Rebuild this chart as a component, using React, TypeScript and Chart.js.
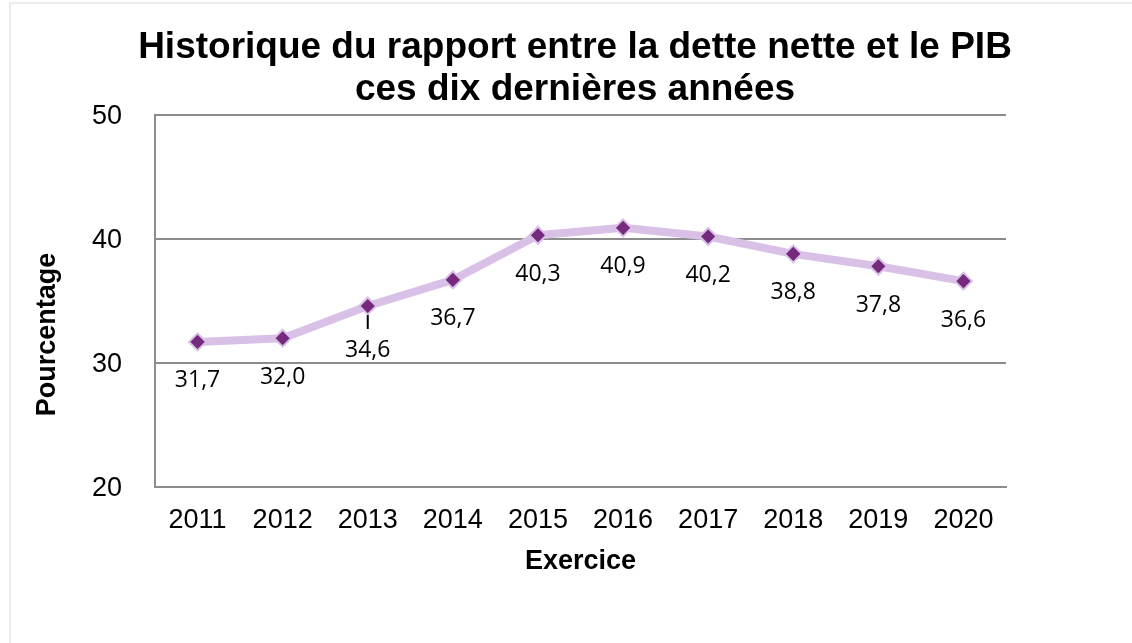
import React, { useEffect, useRef } from 'react';
import { Chart, registerables } from 'chart.js';

Chart.register(...registerables);

// ---- Data ----
const categories: string[] = ['2011', '2012', '2013', '2014', '2015', '2016', '2017', '2018', '2019', '2020'];
const ratios: number[] = [31.7, 32.0, 34.6, 36.7, 40.3, 40.9, 40.2, 38.8, 37.8, 36.6];
const yTickValues: number[] = [20, 30, 40, 50];
const titleLines: string[] = ['Historique du rapport entre la dette nette et le PIB', 'ces dix dernières années'];
const xAxisTitle = 'Exercice';
const yAxisTitle = 'Pourcentage';
const labelTexts: string[] = ratios.map((v) => v.toFixed(1).replace('.', ','));
const leaderLineIndex = 2;

const FONT = '"Liberation Sans", Arial, Helvetica, sans-serif';
const LABEL_FONT = '"Open Sans", "Noto Sans", sans-serif';
const LINE_COLOR = '#d9c0e6';
const MARKER_COLOR = '#752a7e';
const GRID_COLOR = '#8c8c8c';

const pointLabelsPlugin = {
  id: 'pointLabels',
  afterDatasetsDraw(chart: any) {
    const ctx = chart.ctx;
    const meta = chart.getDatasetMeta(0);
    ctx.save();
    ctx.font = `23px ${LABEL_FONT}`;
    ctx.fillStyle = '#000000';
    ctx.textAlign = 'center';
    ctx.textBaseline = 'middle';
    meta.data.forEach((pt: any, i: number) => {
      let dy = 39;
      if (i === leaderLineIndex) {
        dy = 44;
        ctx.strokeStyle = '#000000';
        ctx.lineWidth = 2;
        ctx.beginPath();
        ctx.moveTo(pt.x, pt.y + 9);
        ctx.lineTo(pt.x, pt.y + 23);
        ctx.stroke();
      }
      ctx.fillText(labelTexts[i], pt.x, pt.y + dy);
    });
    ctx.restore();
  },
};

const yTitlePlugin = {
  id: 'yTitle',
  afterDraw(chart: any) {
    const ctx = chart.ctx;
    const area = chart.chartArea;
    ctx.save();
    ctx.font = `bold 27px ${FONT}`;
    ctx.fillStyle = '#000000';
    ctx.textAlign = 'center';
    ctx.textBaseline = 'middle';
    ctx.translate(37, area.top + (area.bottom - area.top) * 0.59);
    ctx.rotate(-Math.PI / 2);
    ctx.fillText(yAxisTitle, 0, 0);
    ctx.restore();
  },
};

export default function App() {
  const canvasRef = useRef<HTMLCanvasElement | null>(null);

  useEffect(() => {
    if (!canvasRef.current) return;
    Chart.defaults.font.family = FONT;
    const chart = new Chart(canvasRef.current, {
      type: 'line',
      data: {
        labels: categories,
        datasets: [
          {
            data: ratios,
            yAxisID: 'y',
            borderColor: LINE_COLOR,
            borderWidth: 8,
            borderJoinStyle: 'round',
            borderCapStyle: 'round',
            tension: 0,
            fill: false,
            pointStyle: 'rectRot',
            pointRadius: 8.5,
            pointHoverRadius: 8.5,
            pointBackgroundColor: MARKER_COLOR,
            pointBorderColor: LINE_COLOR,
            pointBorderWidth: 2,
          },
        ],
      },
      options: {
        animation: false,
        responsive: true,
        maintainAspectRatio: false,
        layout: { padding: { left: 0, right: 0, top: 0, bottom: 62 } },
        plugins: {
          legend: { display: false },
          tooltip: { enabled: false },
          title: {
            display: true,
            text: titleLines,
            color: '#000000',
            font: { family: FONT, size: 37, weight: 'bold', lineHeight: 1.135 },
            padding: { top: 23, bottom: 4 },
          },
        },
        scales: {
          x: {
            offset: true,
            grid: { display: false, drawTicks: false },
            border: { display: true, color: GRID_COLOR, width: 2 },
            ticks: {
              color: '#000000',
              font: { family: FONT, size: 27 },
              padding: 17,
              maxRotation: 0,
              autoSkip: false,
            },
            title: {
              display: true,
              text: xAxisTitle,
              color: '#000000',
              font: { family: FONT, size: 27, weight: 'bold' },
              padding: { top: 0, bottom: 9 },
            },
            afterFit: (scale: any) => {
              scale.height = 100;
            },
          },
          y: {
            position: 'left',
            min: yTickValues[0],
            max: yTickValues[yTickValues.length - 1],
            afterBuildTicks: (scale: any) => {
              scale.ticks = yTickValues.map((v) => ({ value: v }));
            },
            grid: { color: GRID_COLOR, lineWidth: 2, drawTicks: false },
            border: { display: true, color: GRID_COLOR, width: 2 },
            ticks: {
              color: '#000000',
              font: { family: FONT, size: 27 },
              padding: 33,
              labelOffset: 2,
            },
            title: { display: false },
            afterFit: (scale: any) => {
              scale.width = 144;
            },
          },
          yRight: {
            position: 'right',
            display: true,
            grid: { display: false, drawTicks: false },
            border: { display: false },
            ticks: { display: false },
            afterFit: (scale: any) => {
              scale.width = 133;
            },
          },
        },
      },
      plugins: [pointLabelsPlugin, yTitlePlugin],
    } as any);
    return () => chart.destroy();
  }, []);

  return (
    <div style={{ position: 'fixed', left: 0, top: 0, width: '100vw', height: '100vh', overflow: 'hidden', background: '#ffffff' }}>
      <div
        style={{
          position: 'absolute',
          left: 9,
          top: 2,
          width: 1150,
          height: 700,
          border: '2px solid #ececec',
          boxSizing: 'content-box',
        }}
      >
        <div style={{ position: 'absolute', left: 0, top: 0, width: 1128, height: 645 }}>
          <canvas ref={canvasRef} />
        </div>
      </div>
    </div>
  );
}
